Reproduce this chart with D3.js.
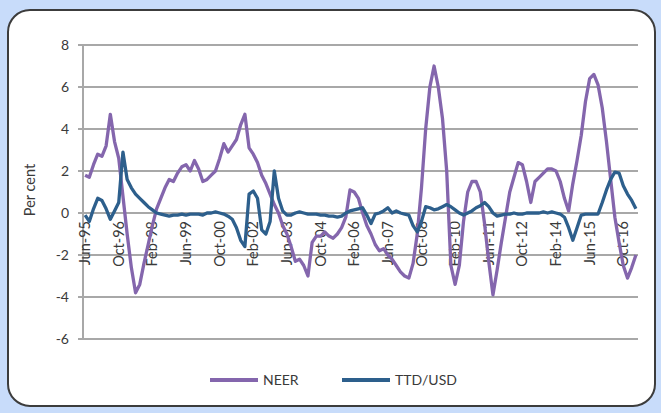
<!DOCTYPE html>
<html>
<head>
<meta charset="utf-8">
<script src="https://cdn.jsdelivr.net/npm/d3@7/dist/d3.min.js"></script>
<style>
  html, body { margin: 0; padding: 0; background: #c8dcfa; }
  svg { display: block; }
  text { font-family: "Lato", "Open Sans", "Liberation Sans", sans-serif; fill: #3a3a3a; }
</style>
</head>
<body>
<svg id="chart" width="661" height="413"></svg>
<script>
// Bi-monthly observations, June 1995 to April 2017 (year-on-year change, per cent)
const months = ["Feb", "Apr", "Jun", "Aug", "Oct", "Dec"];
const periods = [];
for (let k = 0; k < 132; k++) {
  const m = (2 + k) % 6;               // start at Jun
  const yr = 1995 + Math.floor((k + 2) / 6);
  periods.push(months[m] + "-" + String(yr % 100).padStart(2, "0"));
}

const neer = [
  1.8, 1.7, 2.3, 2.8, 2.7, 3.2, 4.7, 3.4, 2.6, 0.8,
  -1.0, -2.6, -3.8, -3.4, -2.4, -1.5, -0.6, 0.2, 0.7, 1.2,
  1.6, 1.5, 1.9, 2.2, 2.3, 2.0, 2.5, 2.1, 1.5, 1.6,
  1.8, 2.0, 2.6, 3.3, 2.9, 3.2, 3.5, 4.2, 4.7, 3.1,
  2.8, 2.4, 1.8, 1.4, 0.9, 0.4, 0.0, -0.6, -1.0, -1.6,
  -2.3, -2.2, -2.5, -3.0, -1.4, -1.1, -1.1, -0.9, -1.1, -1.2,
  -1.0, -0.7, -0.2, 1.1, 1.0, 0.7, 0.0, -0.6, -1.0, -1.5,
  -1.8, -1.7, -2.0, -2.2, -2.5, -2.8, -3.0, -3.1, -2.4, -1.0,
  1.2, 4.0, 6.0, 7.0, 6.0, 4.5, 2.0, -2.5, -3.4, -2.5,
  -0.4, 1.0, 1.5, 1.5, 1.0, -0.5, -2.3, -3.9, -2.7, -1.4,
  -0.2, 1.0, 1.7, 2.4, 2.3, 1.5, 0.5, 1.5, 1.7, 1.9,
  2.1, 2.1, 2.0, 1.5, 0.7, 0.1, 1.4, 2.5, 3.7, 5.3,
  6.4, 6.6, 6.1, 5.0, 3.4, 1.6, -0.2, -1.4, -2.5, -3.1,
  -2.6, -2.0
];

const ttdUsd = [
  -0.1, -0.4, 0.2, 0.7, 0.6, 0.2, -0.3, 0.1, 0.5, 2.9,
  1.6, 1.2, 0.9, 0.7, 0.5, 0.3, 0.15, 0.0, -0.05, -0.1,
  -0.15, -0.1, -0.1, -0.05, -0.1, -0.05, -0.05, -0.05, -0.1, 0.0,
  0.0, 0.05, 0.0, -0.05, -0.15, -0.3, -0.7, -1.3, -1.6, 0.9,
  1.05, 0.7, -0.8, -1.0, -0.4, 2.0, 0.7, 0.1, -0.1, -0.1,
  0.0, 0.05, 0.0, -0.05, -0.05, -0.05, -0.1, -0.1, -0.15, -0.15,
  -0.2, -0.15, 0.0, 0.1, 0.15, 0.2, 0.25, -0.1, -0.5, -0.05,
  0.0, 0.1, 0.25, 0.0, 0.1, 0.0, -0.05, -0.1, -0.6, -0.9,
  -0.4, 0.3, 0.25, 0.15, 0.2, 0.3, 0.4, 0.3, 0.15, 0.0,
  -0.1, 0.0, 0.1, 0.25, 0.35, 0.5, 0.3, 0.0, -0.15, -0.1,
  -0.05, -0.05, 0.0, -0.05, -0.05, 0.0, 0.0, 0.0, 0.0, 0.05,
  0.0, 0.05, 0.0, -0.05, -0.2, -0.7, -1.3, -0.7, -0.1, -0.05,
  -0.05, -0.05, -0.05, 0.5, 1.1, 1.6, 1.95, 1.9, 1.3, 0.9,
  0.6, 0.2
];

const yTicks = [8, 6, 4, 2, 0, -2, -4, -6];
const xLabels = ["Jun-95", "Oct-96", "Feb-98", "Jun-99", "Oct-00", "Feb-02", "Jun-03",
  "Oct-04", "Feb-06", "Jun-07", "Oct-08", "Feb-10", "Jun-11", "Oct-12", "Feb-14",
  "Jun-15", "Oct-16"];

const seriesNames = ["NEER", "TTD/USD"];
const seriesColors = ["#8466ad", "#2d5f8c"];

const svg = d3.select("#chart");

// card
svg.append("rect")
  .attr("x", 8).attr("y", 10).attr("width", 647).attr("height", 396)
  .attr("rx", 22).attr("ry", 22)
  .attr("fill", "#ffffff").attr("stroke", "#3c3c3c").attr("stroke-width", 2);

const plot = { left: 83, right: 638, top: 45, bottom: 339 };

const x = d3.scaleBand().domain(periods).range([plot.left, plot.right]);
const y = d3.scaleLinear().domain([-6, 8]).range([plot.bottom, plot.top]);
const cx = d => x(d) + x.bandwidth() / 2;

// horizontal gridlines with short ticks on the left
svg.append("g").selectAll("line").data(yTicks).join("line")
  .attr("x1", plot.left - 5).attr("x2", plot.right)
  .attr("y1", d => y(d)).attr("y2", d => y(d))
  .attr("stroke", "#a8a8a8").attr("stroke-width", 2);

// vertical axis line
svg.append("line")
  .attr("x1", plot.left).attr("x2", plot.left)
  .attr("y1", y(8)).attr("y2", y(-6))
  .attr("stroke", "#a8a8a8").attr("stroke-width", 2);

// y tick labels
svg.append("g").selectAll("text").data(yTicks).join("text")
  .attr("x", 69).attr("y", d => y(d)).attr("dy", "0.35em")
  .attr("text-anchor", "end").style("font-size", "14px")
  .text(d => d);

// y axis title
svg.append("text")
  .attr("transform", `translate(30,${(y(8) + y(-6)) / 2 - 2}) rotate(-90)`)
  .attr("text-anchor", "middle").attr("dy", "0.35em")
  .style("font-size", "14.5px").text("Per cent");

// category axis along zero, labels rotated
const xAxis = d3.axisBottom(x).tickValues(xLabels).tickSize(0).tickPadding(0);
const gx = svg.append("g").attr("transform", `translate(0,${y(0)})`).call(xAxis);
gx.select(".domain").remove();
gx.selectAll("text")
  .attr("transform", "rotate(-90)")
  .attr("x", -8).attr("y", 0).attr("dy", "0.35em")
  .attr("text-anchor", "end")
  .style("font-size", "14.5px")
  .style("font-family", "Lato, 'Open Sans', sans-serif")
  .attr("fill", "#3a3a3a");

// series lines, TTD/USD drawn second so it sits on top
const line = d3.line().x((d, i) => cx(periods[i])).y(d => y(d));
[neer, ttdUsd].forEach((vals, s) => {
  svg.append("path")
    .datum(vals)
    .attr("d", line)
    .attr("fill", "none")
    .attr("stroke", seriesColors[s])
    .attr("stroke-width", 3.3)
    .attr("stroke-linejoin", "round");
});

// legend
const legendX = [210, 342];
seriesNames.forEach((name, s) => {
  const g = svg.append("g").attr("transform", `translate(${legendX[s]},380)`);
  g.append("line").attr("x1", 0).attr("x2", 48).attr("y1", 0).attr("y2", 0)
    .attr("stroke", seriesColors[s]).attr("stroke-width", 4);
  g.append("text").attr("x", 53).attr("y", 0).attr("dy", "0.35em")
    .style("font-size", "14px").text(name);
});
</script>
</body>
</html>
